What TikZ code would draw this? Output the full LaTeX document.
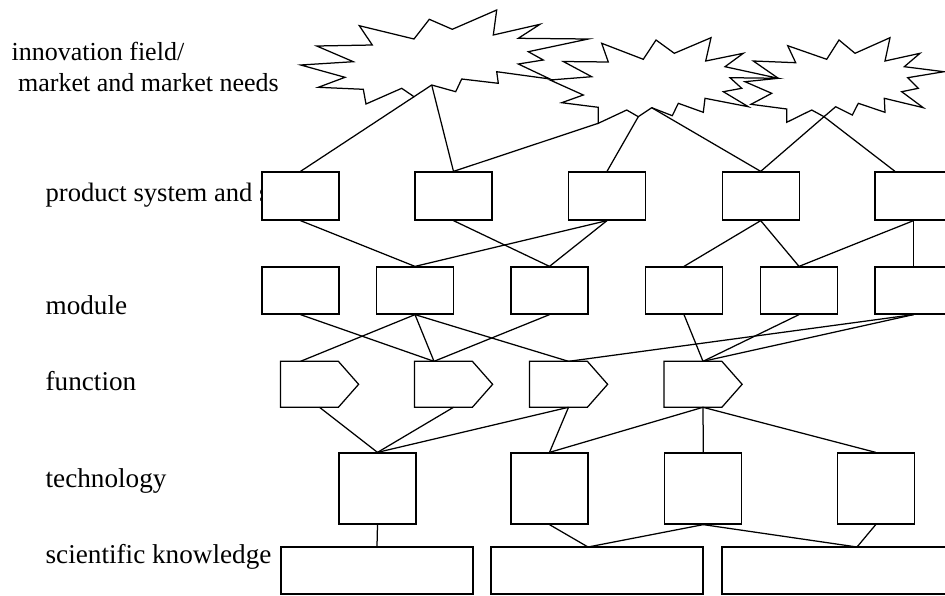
\documentclass[tikz,border=0pt]{standalone}
\usepackage{fontspec}
\setmainfont{Liberation Serif}
\usetikzlibrary{calc}
\newcommand\fpent[1]{\draw[fill=white] (#1.north west) -- ($(#1.north west)+(58,0)$) -- (#1.east) -- ($(#1.south west)+(58,0)$) -- (#1.south west) -- cycle;}
\begin{document}
\begin{tikzpicture}[x=1pt,y=-1pt,line width=1.25pt,line join=miter,
  lbl/.style={anchor=base west,inner sep=0pt,font=\fontsize{27.2}{30}\selectfont},
  toplbl/.style={lbl,font=\fontsize{26}{30}\selectfont},
  box/.style={draw,fill=white,inner sep=0pt,minimum width=77pt,minimum height=48pt},
  mbox/.style={box,minimum height=47pt},
  tbox/.style={box,minimum height=71pt},
  sbox/.style={draw,fill=white,inner sep=0pt,minimum height=47pt},
  fbox/.style={inner sep=0pt,minimum width=77pt,minimum height=44.7pt},
  star/.style={draw}]
\fill[white] (0,0) rectangle (945,595);
\useasboundingbox (0,0) rectangle (945,595);

% labels
\node[toplbl] (l0) at (11,60.5) {innovation field/};
\node[toplbl] (l1) at (17.5,91.5) {market and market needs};
\node[lbl,font=\fontsize{26.6}{30}\selectfont] (l2) at (45,201) {product system and s};
\node[lbl] (l3) at (45,314) {module};
\node[lbl] (l4) at (45,390) {function};
\node[lbl] (l5) at (45,487) {technology};
\node[lbl] (l6) at (45,563) {scientific knowledge};

% stars
\draw[star] (359.3,25.7) -- (414,39) -- (429.3,19.3) -- (452.3,29.3) -- (496.7,10) -- (493.3,35) -- (540,24.3) -- (518.3,38.3) -- (588.3,39) -- (528.3,51.7) -- (543.3,60) -- (518.3,64) -- (550,79) -- (496.7,71.7) -- (498.3,83.3) -- (461.7,79) -- (455.7,91.7) -- (431.7,85) -- (414,96.7) -- (401.7,88.3) -- (366,104) -- (363.3,89.3) -- (318.3,87.3) -- (345,77.3) -- (300.7,65) -- (353.3,61.7) -- (316.7,46) -- (372.3,45) -- cycle;
\draw[star] (601.7,43.3) -- (643.3,59.3) -- (656,40) -- (674.3,53.3) -- (711,37.7) -- (705.7,61) -- (743.3,53.3) -- (725,66.7) -- (778.3,78.3) -- (730,77.7) -- (741.7,88.3) -- (723.3,91.7) -- (748.3,106.7) -- (705,98.3) -- (703.3,112.3) -- (678.3,103.3) -- (672.3,115.7) -- (651.7,107.7) -- (638.3,116.7) -- (626.7,110) -- (598.3,123.3) -- (598.3,107.3) -- (561.7,102.7) -- (583.3,95) -- (550,80) -- (591.7,76.7) -- (563.3,61.5) -- (608.3,62) -- cycle;
\draw[star] (787.7,45.7) -- (826.7,59.3) -- (839,40) -- (855,53.3) -- (890,37.7) -- (885,61) -- (920,53.3) -- (904.3,66.7) -- (944,71.7) -- (907.7,77.7) -- (918.3,88.3) -- (901.7,91.7) -- (923.3,107.7) -- (884.3,98.3) -- (885,112.3) -- (858.3,103.3) -- (852.3,115) -- (835.7,106.7) -- (824,116.7) -- (811.7,110) -- (786.7,122.3) -- (786.7,109) -- (751,104.3) -- (771.7,93.3) -- (745,81.7) -- (778.3,78.3) -- (753.3,61) -- (795.7,62.7) -- cycle;
\coordinate (a1) at (414,96.7);
\coordinate (a2) at (431.7,85);
\coordinate (b1) at (598.3,123.3);
\coordinate (b2) at (638.3,116.7);
\coordinate (b3) at (651.7,107.7);
\coordinate (c1) at (824,116.7);

% product row
\node[box] (p1) at (300.5,196) {};
\node[box] (p2) at (453.5,196) {};
\node[box] (p3) at (607,196) {};
\node[box] (p4) at (760.7,196) {};
\node[box] (p5) at (913.5,196) {};
% module row
\node[mbox] (m1) at (300.5,290.5) {};
\node[mbox] (m2) at (415,290.5) {};
\node[mbox] (m3) at (549.5,290.5) {};
\node[mbox] (m4) at (684,290.5) {};
\node[mbox] (m5) at (799,290.5) {};
\node[mbox] (m6) at (913.5,290.5) {};
% function row
\node[fbox] (f1) at (319.5,384.3) {};
\node[fbox] (f2) at (453.5,384.3) {};
\node[fbox] (f3) at (568.5,384.3) {};
\node[fbox] (f4) at (703,384.3) {};
\fpent{f1}\fpent{f2}\fpent{f3}\fpent{f4}
% technology row
\node[tbox] (t1) at (377.5,488.5) {};
\node[tbox] (t2) at (549.5,488.5) {};
\node[tbox] (t3) at (703.3,488.5) {};
\node[tbox] (t4) at (875.7,488.5) {};
% science row
\node[sbox,minimum width=192pt] (s1) at (377,570.5) {};
\node[sbox,minimum width=212pt] (s2) at (597,570.5) {};
\node[sbox,minimum width=240pt] (s3) at (842,570.5) {};

% stars to products
\draw (a1) -- (p1.north);
\draw (a2) -- (p2.north);
\draw (b1) -- (p2.north);
\draw (b2) -- (p3.north);
\draw (b3) -- (p4.north);
\draw (c1) -- (p4.north);
\draw (c1) -- ($(p5.north)+(-18.5,0)$);

% products to modules
\draw (p1.south) -- (m2.north);
\draw (p2.south) -- (m3.north);
\draw (p3.south) -- (m2.north);
\draw (p3.south) -- (m3.north);
\draw (p4.south) -- (m4.north);
\draw (p4.south) -- (m5.north);
\draw (p5.south) -- (m5.north);
\draw (p5.south) -- (m6.north);

% modules to functions
\coordinate (f1t) at ($(f1.north)+(-19,0)$);
\coordinate (f2t) at ($(f2.north)+(-19.5,0)$);
\draw (m1.south) -- (f2t);
\draw (m2.south) -- (f1t);
\draw (m2.south) -- (f2t);
\draw (m2.south) -- (f3.north);
\draw (m3.south) -- (f2t);
\draw (m4.south) -- (f4.north);
\draw (m5.south) -- (f4.north);
\draw (m6.south) -- (f3.north);
\draw (m6.south) -- (f4.north);

% functions to technologies
\draw (f1.south) -- (t1.north);
\draw (f2.south) -- (t1.north);
\draw (f3.south) -- (t1.north);
\draw (f3.south) -- (t2.north);
\draw (f4.south) -- (t2.north);
\draw (f4.south) -- (t3.north);
\draw (f4.south) -- (t4.north);

% technologies to science
\coordinate (s2t) at (588,547);
\coordinate (s3t) at (857,547);
\draw (t1.south) -- (s1.north);
\draw (t2.south) -- (s2t);
\draw (t3.south) -- (s2t);
\draw (t3.south) -- (s3t);
\draw (t4.south) -- (s3t);
\end{tikzpicture}
\end{document}
